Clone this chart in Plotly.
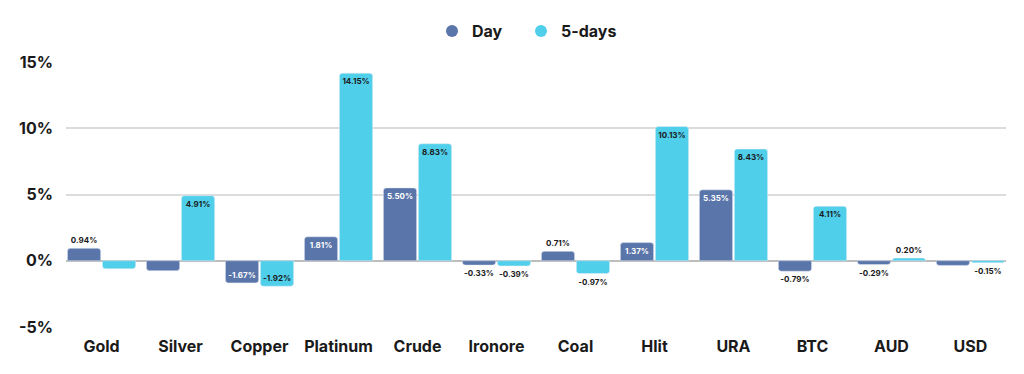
import plotly.graph_objects as go

categories = ["Gold", "Silver", "Copper", "Platinum", "Crude", "Ironore", "Coal", "Hlit", "URA", "BTC", "AUD", "USD"]
day_values = [0.94, -0.75, -1.67, 1.81, 5.50, -0.33, 0.71, 1.37, 5.35, -0.79, -0.29, -0.35]
five_day_values = [-0.60, 4.91, -1.92, 14.15, 8.83, -0.39, -0.97, 10.13, 8.43, 4.11, 0.20, -0.15]
day_labels = ["0.94%", "", "-1.67%", "1.81%", "5.50%", "-0.33%", "0.71%", "1.37%", "5.35%", "-0.79%", "-0.29%", ""]
five_day_labels = ["", "4.91%", "-1.92%", "14.15%", "8.83%", "-0.39%", "-0.97%", "10.13%", "8.43%", "4.11%", "0.20%", "-0.15%"]
y_ticks = [-5, 0, 5, 10, 15]
y_tick_labels = ["-5%", "0%", "5%", "10%", "15%"]

DAY_COLOR = "#5a75aa"
FIVE_COLOR = "#4fcfea"
DARK = "#1a1a1a"
FONT = "Inter, Open Sans, sans-serif"


def positions(vals, threshold):
    return ["inside" if abs(v) >= threshold else "outside" for v in vals]


fig = go.Figure()
fig.add_trace(go.Bar(
    x=categories, y=day_values, name="Day", marker_color=DAY_COLOR,
    text=day_labels, textposition=positions(day_values, 1.2), textangle=0,
    insidetextanchor="end", insidetextfont=dict(color="white", size=8, family=FONT, weight="bold"),
    outsidetextfont=dict(color=DARK, size=8, family=FONT, weight="bold"),
    textfont=dict(size=8, family=FONT, weight="bold"), constraintext="none",
    cliponaxis=False, showlegend=False, hoverinfo="skip",
))
fig.add_trace(go.Bar(
    x=categories, y=five_day_values, name="5-days", marker_color=FIVE_COLOR,
    text=five_day_labels, textposition=positions(five_day_values, 1.2), textangle=0,
    insidetextanchor="end", insidetextfont=dict(color=DARK, size=8, family=FONT, weight="bold"),
    outsidetextfont=dict(color=DARK, size=8, family=FONT, weight="bold"),
    textfont=dict(size=8, family=FONT, weight="bold"), constraintext="none",
    cliponaxis=False, showlegend=False, hoverinfo="skip",
))
# legend entries with circle markers, one legend each for precise placement
fig.add_trace(go.Scatter(x=[None], y=[None], mode="markers", name="Day", legend="legend",
                         marker=dict(symbol="circle", size=17, color=DAY_COLOR)))
fig.add_trace(go.Scatter(x=[None], y=[None], mode="markers", name="5-days", legend="legend2",
                         marker=dict(symbol="circle", size=17, color=FIVE_COLOR)))

legend_common = dict(orientation="h", xanchor="left", xref="container",
                     y=1 - 23 / 374, yanchor="middle", yref="container",
                     font=dict(size=16, family=FONT, weight="bold", color=DARK),
                     itemsizing="constant", itemwidth=30)

fig.update_layout(
    width=1024, height=374,
    margin=dict(l=58, r=26, t=54, b=55, autoexpand=False),
    paper_bgcolor="white", plot_bgcolor="white",
    barmode="group", bargap=0.114, bargroupgap=0.05, barcornerradius=3,
    font=dict(family=FONT, color=DARK),
    legend=dict(x=424 / 1024, **legend_common),
    legend2=dict(x=513 / 1024, **legend_common),
    showlegend=True,
)
fig.update_xaxes(range=[-0.45, 11.45], showgrid=False, showline=False, zeroline=False,
                 ticks="", ticklabelstandoff=8,
                 tickfont=dict(size=16, family=FONT, weight="bold", color=DARK))
fig.update_yaxes(range=[-5, 15], tickvals=y_ticks, ticktext=y_tick_labels,
                 showgrid=True, gridcolor="#dcdcdc", gridwidth=1.5,
                 zeroline=True, zerolinecolor="#bdbdbd", zerolinewidth=1.5,
                 showline=False, ticks="", ticklabelstandoff=12,
                 tickfont=dict(size=16, family=FONT, weight="bold", color=DARK))

fig.write_html("out.html")
